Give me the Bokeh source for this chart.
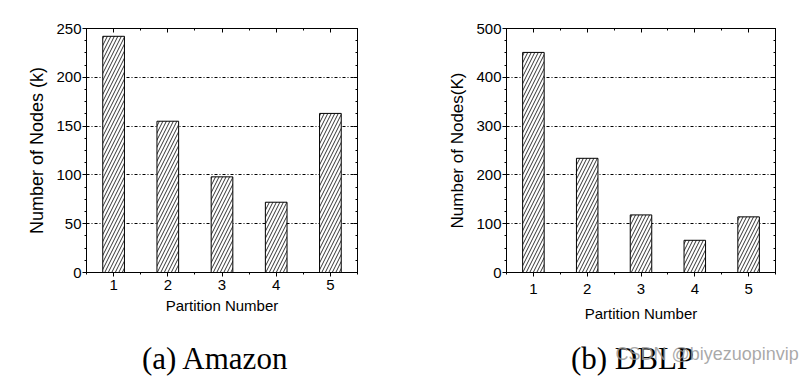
from bokeh.plotting import figure
from bokeh.layouts import row, column
from bokeh.models import Range1d, LinearAxis, Label, SingleIntervalTicker, CustomJSTickFormatter
from bokeh.embed import file_html
from bokeh.resources import INLINE

partitions = [1, 2, 3, 4, 5]
amazon_nodes = [242, 155, 98, 72, 163]
dblp_nodes = [451, 234, 118, 66, 114]
amazon_ylabel = "Number of Nodes (k)"
dblp_ylabel = "Number of Nodes(K)"
xlabel = "Partition Number"
captions = ["(a) Amazon", "(b) DBLP"]
watermark = "CSDN @biyezuopinvip"

SANS = "Liberation Sans"
SERIF = "Liberation Serif"
CHART_H = 330
CAP_H = 376 - CHART_H


def blank_axis(ticker):
    return LinearAxis(ticker=ticker, formatter=CustomJSTickFormatter(code="return ''"),
                      axis_line_color="black", major_tick_line_color="black",
                      minor_tick_line_color="black",
                      major_tick_in=4, major_tick_out=0, minor_tick_in=2, minor_tick_out=0,
                      major_label_standoff=0)


def make_chart(values, ymax, ystep, ylabel, width, borders, ylabel_size, tick_gap, label_gap):
    left, right, top, bottom = borders
    p = figure(width=width, height=CHART_H, output_backend="svg", toolbar_location=None,
               x_range=Range1d(0.5, 5.5), y_range=Range1d(0, ymax),
               min_border_left=left, min_border_right=right,
               min_border_top=top, min_border_bottom=bottom)
    p.background_fill_color = "white"
    p.border_fill_color = "white"
    p.outline_line_color = "black"
    p.outline_line_width = 1

    p.vbar(x=partitions, top=values, width=0.4, bottom=0,
           fill_color="white", line_color="black", line_width=1,
           hatch_pattern="/", hatch_color="#333333", hatch_scale=7, hatch_weight=1)

    xt = SingleIntervalTicker(interval=1, num_minor_ticks=2)
    yt = SingleIntervalTicker(interval=ystep, num_minor_ticks=4)
    p.xaxis.ticker = xt
    p.yaxis.ticker = yt

    for ax in (p.xaxis[0], p.yaxis[0]):
        ax.axis_line_color = "black"
        ax.major_tick_line_color = "black"
        ax.minor_tick_line_color = "black"
        ax.major_tick_in = 0
        ax.major_tick_out = 4
        ax.minor_tick_in = 0
        ax.minor_tick_out = 2
        ax.major_label_text_font = SANS
        ax.major_label_text_font_size = "15px"
        ax.major_label_text_color = "black"
        ax.axis_label_text_font = SANS
        ax.axis_label_text_font_style = "normal"
        ax.axis_label_text_color = "black"
    p.xaxis.axis_label = xlabel
    p.xaxis.axis_label_text_font_size = "15px"
    p.xaxis.major_label_standoff = tick_gap
    p.xaxis.axis_label_standoff = label_gap
    p.yaxis.axis_label = ylabel
    p.yaxis.axis_label_text_font_size = ylabel_size
    p.yaxis.major_label_standoff = 1
    p.yaxis.axis_label_standoff = 6

    p.add_layout(blank_axis(SingleIntervalTicker(interval=1, num_minor_ticks=2)), "above")
    p.add_layout(blank_axis(SingleIntervalTicker(interval=ystep, num_minor_ticks=4)), "right")

    p.xgrid.grid_line_color = None
    p.ygrid.ticker = yt
    p.ygrid.grid_line_color = "black"
    p.ygrid.grid_line_width = 1
    p.ygrid.grid_line_dash = "3 2 1 2"
    return p


def make_caption(width, text, cx):
    c = figure(width=width, height=CAP_H, output_backend="svg", toolbar_location=None,
               x_range=Range1d(0, width), y_range=Range1d(0, CAP_H),
               x_axis_location=None, y_axis_location=None, min_border=0)
    c.outline_line_color = None
    c.grid.grid_line_color = None
    c.background_fill_color = "white"
    c.border_fill_color = "white"
    c.add_layout(Label(x=cx, y=18, text=text, text_font=SERIF, text_font_size="31px",
                       text_color="black", text_align="center", text_baseline="alphabetic"))
    return c


p1 = make_chart(amazon_nodes, 250, 50, amazon_ylabel, 404, (86, 47, 21, CHART_H - 272),
                "18px", 3, 4)
p2 = make_chart(dblp_nodes, 500, 100, dblp_ylabel, 405, (102, 34, 28, CHART_H - 275),
                "17px", 7, 8)

c1 = make_caption(404, captions[0], 215)
c2 = make_caption(405, captions[1], 228)
c2.add_layout(Label(x=211, y=23, text=watermark, text_font=SANS, text_font_size="18px",
                    text_color="#9a9a9a", text_alpha=0.85,
                    text_align="left", text_baseline="alphabetic"))

layout = column(row(p1, p2), row(c1, c2))
open("out.html", "w").write(file_html(layout, INLINE))
